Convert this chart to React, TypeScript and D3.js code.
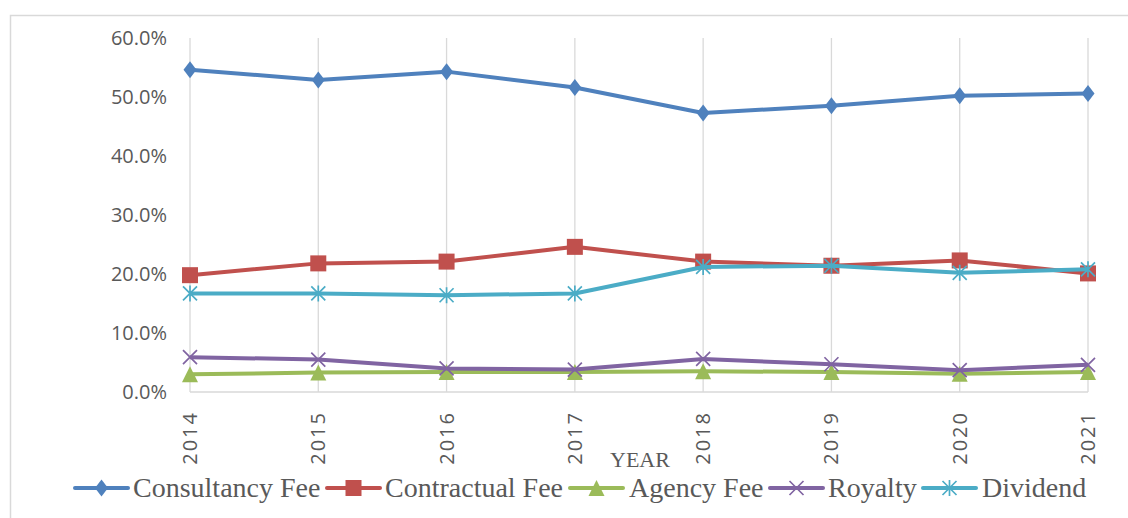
import React from "react";
import * as d3 from "d3";

const years = ["2014", "2015", "2016", "2017", "2018", "2019", "2020", "2021"];
const consultancy = [54.6, 52.9, 54.3, 51.6, 47.3, 48.5, 50.2, 50.6];
const contractual = [19.8, 21.8, 22.1, 24.6, 22.1, 21.4, 22.3, 20.1];
const agency = [3.0, 3.3, 3.4, 3.4, 3.5, 3.4, 3.1, 3.4];
const royalty = [5.9, 5.5, 4.0, 3.8, 5.6, 4.7, 3.7, 4.6];
const dividend = [16.7, 16.7, 16.4, 16.7, 21.2, 21.4, 20.2, 20.8];
const yTicks = [0, 10, 20, 30, 40, 50, 60];

const seriesNames = ["Consultancy Fee", "Contractual Fee", "Agency Fee", "Royalty", "Dividend"];
const seriesValues = [consultancy, contractual, agency, royalty, dividend];
const seriesColors = ["#4f81bd", "#c0504d", "#9bbb59", "#8064a2", "#4bacc6"];
const seriesMarkers = ["diamond", "square", "triangle", "x", "star"];

const W = 1128;
const H = 518;
const left = 190;
const right = 1088;
const top = 38;
const bottom = 392;

function Marker({ type, x, y, color }: { type: string; x: number; y: number; color: string }) {
  if (type === "diamond") {
    const r = 7.5;
    return <path d={`M${x},${y - r - 1}L${x + r - 1},${y}L${x},${y + r + 1}L${x - r + 1},${y}Z`} fill={color} />;
  }
  if (type === "square") {
    const s = 16;
    return <rect x={x - s / 2} y={y - s / 2} width={s} height={s} fill={color} />;
  }
  if (type === "triangle") {
    const s = 8;
    return <path d={`M${x},${y - s}L${x + s},${y + s}L${x - s},${y + s}Z`} fill={color} />;
  }
  if (type === "x") {
    const s = 7;
    return (
      <path d={`M${x - s},${y - s}L${x + s},${y + s}M${x - s},${y + s}L${x + s},${y - s}`} stroke={color} strokeWidth={1.7} fill="none" />
    );
  }
  const s = 7;
  return (
    <path
      d={`M${x - s},${y - s}L${x + s},${y + s}M${x - s},${y + s}L${x + s},${y - s}M${x},${y - s - 1}L${x},${y + s + 1}`}
      stroke={color}
      strokeWidth={1.7}
      fill="none"
    />
  );
}

export default function App() {
  const x = d3.scalePoint<string>().domain(years).range([left, right]);
  const y = d3.scaleLinear().domain([0, 60]).range([bottom, top]);
  const line = d3
    .line<number>()
    .x((_, i) => x(years[i]) as number)
    .y((d) => y(d));

  const legendItems = [
    { lineStart: 75, textX: 133 },
    { lineStart: 327, textX: 385 },
    { lineStart: 570, textX: 629 },
    { lineStart: 770, textX: 828 },
    { lineStart: 923, textX: 982 },
  ];
  const legendY = 488;

  return (
    <svg width={W} height={H} style={{ position: "absolute", left: 0, top: 0 }} xmlns="http://www.w3.org/2000/svg">
      <rect x={0} y={0} width={W} height={H} fill="#ffffff" />
      <path d={`M10.5,${H + 2}L10.5,15.5L${W + 2},15.5`} stroke="#d9d9d9" strokeWidth={1.5} fill="none" />
      {years.map((yr) => (
        <line key={yr} x1={x(yr)} x2={x(yr)} y1={top} y2={bottom} stroke="#d9d9d9" strokeWidth={1.3} />
      ))}
      <line x1={left} x2={right} y1={bottom} y2={bottom} stroke="#d9d9d9" strokeWidth={1.3} />
      {yTicks.map((t) => (
        <text
          key={t}
          x={167}
          y={y(t)}
          dy="0.35em"
          textAnchor="end"
          fontFamily="'Open Sans', sans-serif"
          fontSize={20}
          fill="#595959"
        >
          {t.toFixed(1) + "%"}
        </text>
      ))}
      {years.map((yr) => (
        <text
          key={yr}
          transform={`translate(${(x(yr) as number) + 7},411) rotate(-90)`}
          textAnchor="end"
          fontFamily="'Open Sans', sans-serif"
          fontSize={20}
          letterSpacing={2}
          fill="#595959"
        >
          {yr}
        </text>
      ))}
      <text x={640} y={467} textAnchor="middle" fontFamily="'Liberation Serif', 'Times New Roman', serif" fontSize={22} fill="#595959">
        YEAR
      </text>
      {seriesValues.map((vals, si) => (
        <g key={seriesNames[si]}>
          <path d={line(vals) || ""} stroke={seriesColors[si]} strokeWidth={4} fill="none" strokeLinejoin="round" />
          {vals.map((v, i) => (
            <Marker key={i} type={seriesMarkers[si]} x={x(years[i]) as number} y={y(v)} color={seriesColors[si]} />
          ))}
        </g>
      ))}
      {seriesNames.map((name, si) => {
        const it = legendItems[si];
        return (
          <g key={name}>
            <line x1={it.lineStart} x2={it.lineStart + 53} y1={legendY} y2={legendY} stroke={seriesColors[si]} strokeWidth={4} strokeLinecap="round" />
            <Marker type={seriesMarkers[si]} x={it.lineStart + 26.5} y={legendY} color={seriesColors[si]} />
            <text
              x={it.textX}
              y={legendY}
              dy="0.33em"
              fontFamily="'Liberation Serif', 'Times New Roman', serif"
              fontSize={28}
              fill="#595959"
            >
              {name}
            </text>
          </g>
        );
      })}
    </svg>
  );
}
